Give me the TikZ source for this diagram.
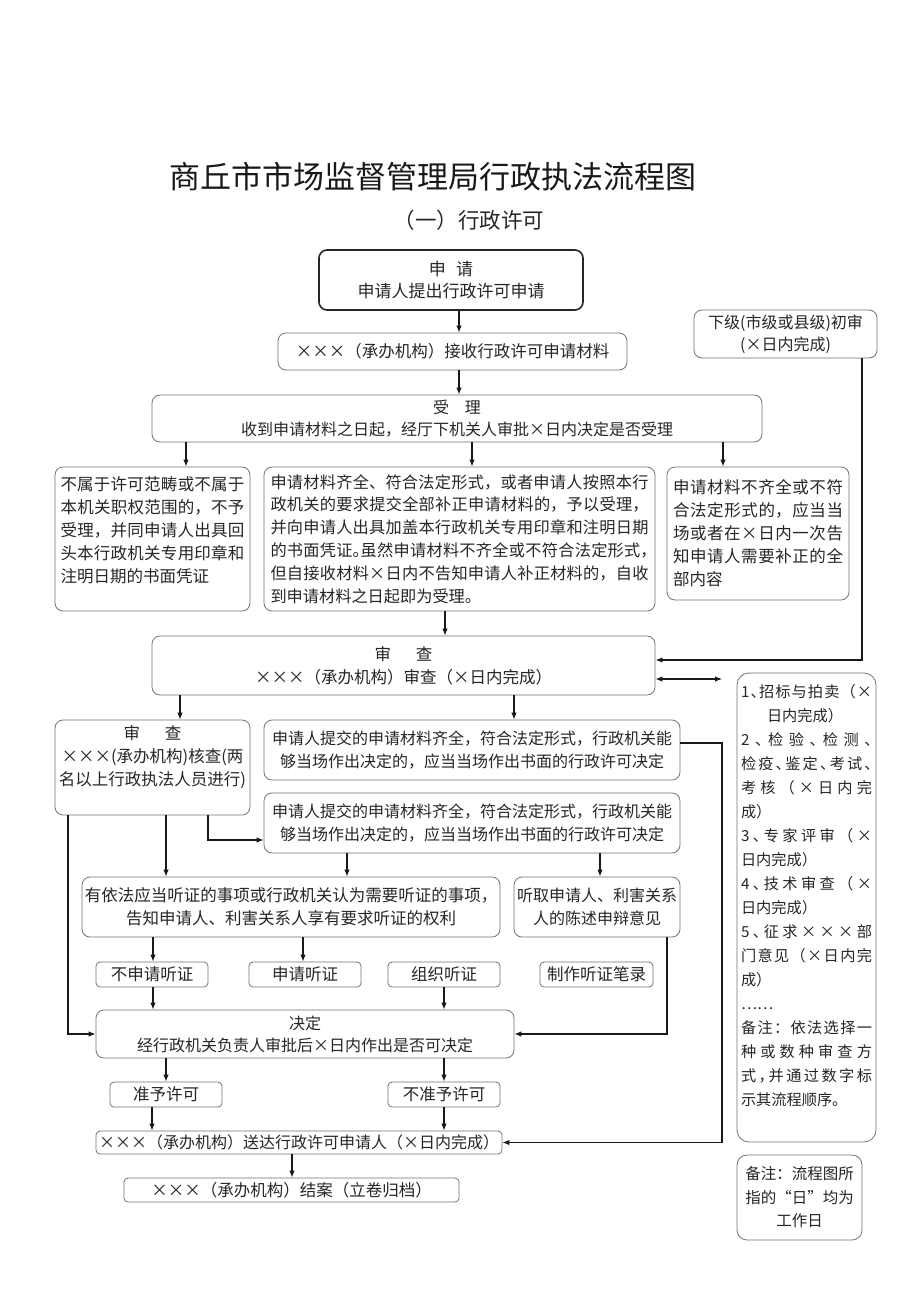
\documentclass[tikz,border=0pt]{standalone}
\usepackage{fontspec}
\setmainfont{Noto Sans CJK SC}
\XeTeXlinebreaklocale "zh"
\XeTeXlinebreakskip=0pt plus 4pt
\usetikzlibrary{arrows.meta}
\setlength{\parindent}{0pt}
\newcommand{\hp}[1]{\makebox[0.5em][l]{#1}}
\makeatletter
\newcommand{\jl}[1]{\makebox[131pt][s]{\@tfor\jtok:=#1\do{\jtok\hfil}\unskip}}
\makeatother
\begin{document}
\begin{tikzpicture}[x=1pt,y=-1pt,
  box/.style={draw=black!55, line width=0.8pt, rounded corners=8pt, inner sep=0pt,
    text=black!85, font=\fontsize{16.5}{23}\selectfont, align=center},
  sbox/.style={box, rounded corners=4pt, minimum height=25pt},
  arr/.style={-{Latex[length=7pt,width=5.5pt]}, line width=1.1pt, draw=black!90},
  darr/.style={{Latex[length=7pt,width=5.5pt]}-{Latex[length=7pt,width=5.5pt]}, line width=1.1pt, draw=black!90}]
\fill[white] (0,0) rectangle (920,1301);
\useasboundingbox (0,0) rectangle (920,1301);

% titles
\node[font=\fontsize{31}{31}\selectfont, text=black!90] (title) at (432.5,177) {商丘市市场监督管理局行政执法流程图};
\node[font=\fontsize{21.5}{22}\selectfont, text=black!85] (subtitle) at (469,220) {（一）行政许可};

% boxes
\node[box, line width=1.6pt, draw=black!85, minimum width=264pt, minimum height=60pt, font=\fontsize{17}{22}\selectfont] (sq) at (451,280) {申\hspace{0.6em}请\\申请人提出行政许可申请};
\node[box, minimum width=349pt, minimum height=37pt] (js) at (452.5,351.5) {×××（承办机构）接收行政许可申请材料};
\node[box, minimum width=183pt, minimum height=48pt, font=\fontsize{16}{22}\selectfont] (xj) at (785.5,334) {下级(市级或县级)初审\\(×日内完成)};
\node[box, minimum width=610pt, minimum height=47pt, font=\fontsize{16}{22}\selectfont] (sl) at (457,418.5) {受\hspace{1em}理\\收到申请材料之日起，经厅下机关人审批×日内决定是否受理};

\node[box, minimum width=195pt, minimum height=144pt, text width=184pt, align=justify] (lb) at (152.5,539) {不属于许可范畴或不属于\linebreak 本机关职权范围的，不予\linebreak 受理，并同申请人出具回\linebreak 头本行政机关专用印章和\linebreak 注明日期的书面凭证\rule[-18pt]{0pt}{18pt}};
\node[box, minimum width=391pt, minimum height=144pt, text width=378pt, align=justify, font=\fontsize{16.2}{22.8}\selectfont] (mb) at (459.5,539) {申请材料齐全、符合法定形式，或者申请人按照本行\linebreak 政机关的要求提交全部补正申请材料的，予以受理，\linebreak 并向申请人出具加盖本行政机关专用印章和注明日期\linebreak 的书面凭证\hp{。}虽然申请材料不齐全或不符合法定形式\hp{，}\linebreak 但自接收材料×日内不告知申请人补正材料的，自收\linebreak 到申请材料之日起即为受理。};
\node[box, minimum width=182pt, minimum height=133pt, text width=170pt, align=justify] (rb) at (758,533.5) {申请材料不齐全或不符\linebreak 合法定形式的，应当当\linebreak 场或者在×日内一次告\linebreak 知申请人需要补正的全\linebreak 部内容};

\node[box, minimum width=503pt, minimum height=59pt] (sc) at (403.5,665.5) {审\hspace{1.5em}查\\×××（承办机构）审查（×日内完成）};
\node[box, minimum width=195pt, minimum height=95pt] (sl2) at (152.5,767.5) {审\hspace{1.5em}查\\×××(承办机构)核查(两\\名以上行政执法人员进行)\rule[-23pt]{0pt}{23pt}};
\node[box, minimum width=416pt, minimum height=60pt, font=\fontsize{16}{23}\selectfont] (p1) at (472,750) {申请人提交的申请材料齐全，符合法定形式，行政机关能\\够当场作出决定的，应当当场作出书面的行政许可决定};
\node[box, minimum width=416pt, minimum height=60pt, font=\fontsize{16}{23}\selectfont] (p2) at (472,823) {申请人提交的申请材料齐全，符合法定形式，行政机关能\\够当场作出决定的，应当当场作出书面的行政许可决定};

\node[box, minimum width=418pt, minimum height=60pt] (hy) at (291,907) {有依法应当听证的事项或行政机关认为需要听证的事项，\\告知申请人、利害关系人享有要求听证的权利};
\node[box, minimum width=166pt, minimum height=60pt, font=\fontsize{16}{23}\selectfont] (tq) at (597,907) {听取申请人、利害关系\\人的陈述申辩意见};

\node[sbox, minimum width=112pt] (bn) at (152,974.5) {不申请听证};
\node[sbox, minimum width=112pt] (bs) at (305,974.5) {申请听证};
\node[sbox, minimum width=112pt] (bz) at (444,974.5) {组织听证};
\node[sbox, minimum width=113pt] (bl) at (596.5,974.5) {制作听证笔录};

\node[box, minimum width=418pt, minimum height=48pt, font=\fontsize{16}{22}\selectfont] (jd) at (305,1034) {决定\\经行政机关负责人审批后×日内作出是否可决定};
\node[sbox, minimum width=112pt] (zy) at (166,1094.5) {准予许可};
\node[sbox, minimum width=112pt] (by) at (444,1094.5) {不准予许可};
\node[sbox, minimum width=406pt, minimum height=23pt, font=\fontsize{16}{22}\selectfont] (sd) at (299,1142.5) {×××（承办机构）送达行政许可申请人（×日内完成）};
\node[sbox, minimum width=335pt, minimum height=24pt] (ja) at (291.5,1190) {×××（承办机构）结案（立卷归档）};

\node[box, rounded corners=12pt, minimum width=139pt, minimum height=469pt, text width=131pt, align=left, font=\fontsize{15.2}{24.05}\selectfont] (tb) at (806.5,907.5) {\jl{1{\hp{、}}招标与拍卖（×}\\\hspace*{26pt}日内完成）\\\jl{2{\hp{、}}检验{\hp{、}}检测{\hp{、}}}\\\jl{检疫{\hp{、}}鉴定{\hp{、}}考试{\hp{、}}}\\\jl{考核（×日内完}\\成）\\\jl{3{\hp{、}}专家评审（×}\\日内完成）\\\jl{4{\hp{、}}技术审查（×}\\日内完成）\\\jl{5{\hp{、}}征求×××部}\\\jl{门意见（×日内完}\\成）\\……\\\jl{备注：依法选择一}\\\jl{种或数种审查方}\\\jl{式{\hp{，}}并通过数字标}\\示其流程顺序。\rule[-25pt]{0pt}{25pt}};
\node[box, rounded corners=10pt, minimum width=125pt, minimum height=85pt, font=\fontsize{15.5}{23.5}\selectfont] (nb) at (799.5,1197.5) {备注：流程图所\\指的“日”均为\\工作日};

% column coordinates
\coordinate (X459) at (459,0);
\coordinate (X186) at (186,0);
\coordinate (X472) at (472,0);
\coordinate (X723) at (723,0);
\coordinate (X445) at (445,0);
\coordinate (X180) at (180,0);
\coordinate (X514) at (514,0);
\coordinate (X68) at (68,0);
\coordinate (X166) at (166,0);
\coordinate (X208) at (208,0);
\coordinate (X347) at (347,0);
\coordinate (X600) at (600,0);
\coordinate (X153) at (153,0);
\coordinate (X303) at (303,0);
\coordinate (X667) at (667,0);
\coordinate (X152) at (152,0);
\coordinate (X292) at (292,0);
\coordinate (Y840) at (0,840);
\coordinate (R1) at (862,660);
\coordinate (R2) at (722,679);
\coordinate (R3) at (722,743);
\coordinate (R4) at (722,1142.5);

% connectors
\draw[arr] (sq.south -| X459) -- (js.north -| X459);
\draw[arr] (js.south -| X459) -- (sl.north -| X459);
\draw[arr] (sl.south -| X186) -- (lb.north -| X186);
\draw[arr] (sl.south -| X472) -- (mb.north -| X472);
\draw[arr] (sl.south -| X723) -- (rb.north -| X723);
\draw[arr] (mb.south -| X445) -- (sc.north -| X445);
\draw[arr, line width=1.6pt] (xj.south -| R1) -- (R1) -- (sc.east |- R1);
\draw[darr] (sc.east |- R2) -- (R2);
\draw[arr] (sc.south -| X180) -- (sl2.north -| X180);
\draw[arr] (sc.south -| X514) -- (p1.north -| X514);
\draw[arr] (p1.east |- R3) -- (R3) -- (R4) -- (sd.east |- R4);
\draw[arr] (sl2.south -| X68) |- (jd.west);
\draw[arr] (sl2.south -| X166) -- (hy.north -| X166);
\draw[arr] (sl2.south -| X208) |- (p2.west |- Y840);
\draw[arr] (p2.south -| X347) -- (hy.north -| X347);
\draw[arr] (p2.south -| X600) -- (tq.north -| X600);
\draw[arr] (hy.south -| X153) -- (bn.north -| X153);
\draw[arr] (hy.south -| X303) -- (bs.north -| X303);
\draw[arr] (bn.south -| X153) -- (jd.north -| X153);
\draw[arr] (bz.south) -- (jd.north -| bz.south);
\draw[arr] (tq.south -| X667) |- (jd.east);
\draw[arr] (jd.south -| zy.north) -- (zy.north);
\draw[arr] (jd.south -| by.north) -- (by.north);
\draw[arr] (zy.south -| X152) -- (sd.north -| X152);
\draw[arr] (by.south) -- (sd.north -| by.south);
\draw[arr] (sd.south -| X292) -- (ja.north -| X292);
\end{tikzpicture}
\end{document}
